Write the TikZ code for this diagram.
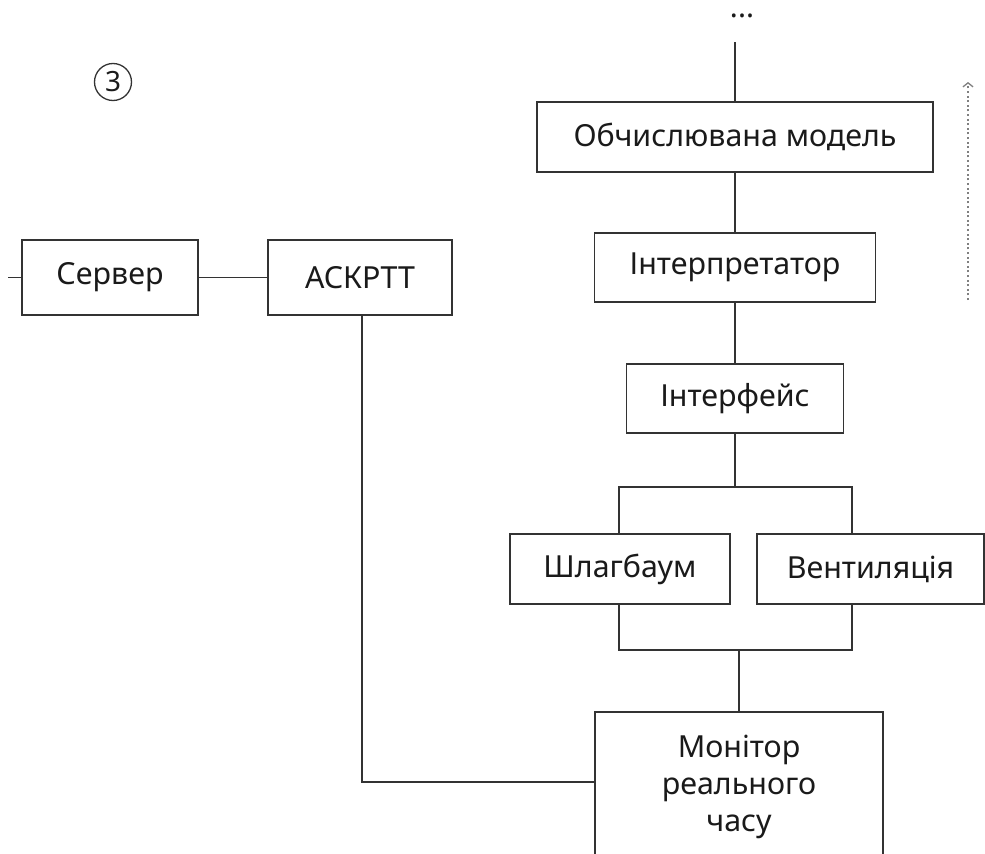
\documentclass[tikz,border=0pt]{standalone}
\usepackage{fontspec}
\setmainfont{Noto Sans}
\usetikzlibrary{arrows.meta}
\definecolor{ink}{HTML}{1A1A1A}
\definecolor{lin}{HTML}{333333}
\definecolor{dotc}{HTML}{808080}
\tikzset{
  blk/.style={draw=lin, line width=1.4bp, rectangle, inner sep=0pt, text=ink,
    font=\fontsize{30.5}{37.5}\selectfont, align=center},
  con/.style={draw=lin, line width=1.4bp},
}
\begin{document}
\begin{tikzpicture}[x=1bp,y=-1bp]
\useasboundingbox (0,0) rectangle (985,854);
\fill[white] (0,0) rectangle (985,854);

\node[draw=lin, line width=1.3bp, circle, minimum size=37bp, inner sep=0pt, text=ink,
  font=\fontsize{28}{30}\selectfont] (num) at (113,82) {3};

\node[text=ink, font=\fontsize{30}{32}\selectfont, inner sep=0pt, anchor=base] (dots) at (742,17.5) {...};
\coordinate (topend) at (735,42);

\node[blk, minimum width=396bp, minimum height=70bp] (obch) at (735,137) {Обчислювана модель};
\node[blk, minimum width=281bp, minimum height=69bp] (intp) at (735,267.5) {Інтерпретатор};
\node[blk, minimum width=217bp, minimum height=69bp] (intf) at (735,398.5) {Інтерфейс};
\node[blk, minimum width=220bp, minimum height=70bp] (shl) at (620,569) {Шлагбаум};
\node[blk, minimum width=227bp, minimum height=70bp] (ven) at (870.5,569) {Вентиляція};
\node[blk, minimum width=288bp, minimum height=150bp] (mon) at (739,787) {Монітор\\реального\\часу};

\node[blk, minimum width=176bp, minimum height=75bp] (srv) at (110,277.5) {Сервер};
\node[blk, minimum width=184bp, minimum height=75bp] (ask) at (360,277.5) {АСКРТТ};
\coordinate (stub) at (8,277.5);

\coordinate (bl) at (619,487);
\coordinate (br) at (852,487);
\coordinate (bl2) at (619,650);
\coordinate (br2) at (852,650);
\coordinate (ret) at (595,782);

\draw[con] (topend) -- (obch.north);
\draw[con] (obch.south) -- (intp.north);
\draw[con] (intp.south) -- (intf.north);
\draw[con] (intf.south) -- (intf.south |- bl);
\draw[con] (bl |- shl.north) -- (bl) -- (br) -- (br |- ven.north);
\draw[con] (bl2 |- shl.south) -- (bl2) -- (br2) -- (br2 |- ven.south);
\draw[con] (mon.north) -- (mon.north |- bl2);

\draw[con] (stub) -- (srv.west);
\draw[con] (srv.east) -- (ask.west);
\draw[con] ([xshift=2bp]ask.south) |- (mon.west |- ret);

\coordinate (arrS) at (968,300);
\coordinate (arrE) at (968,82);
\draw[draw=dotc, line width=1.5bp, dash pattern=on 2bp off 2.6bp,
  -{Straight Barb[length=4bp, width=10bp, line width=1.3bp]}] (arrS) -- (arrE);
\end{tikzpicture}
\end{document}
